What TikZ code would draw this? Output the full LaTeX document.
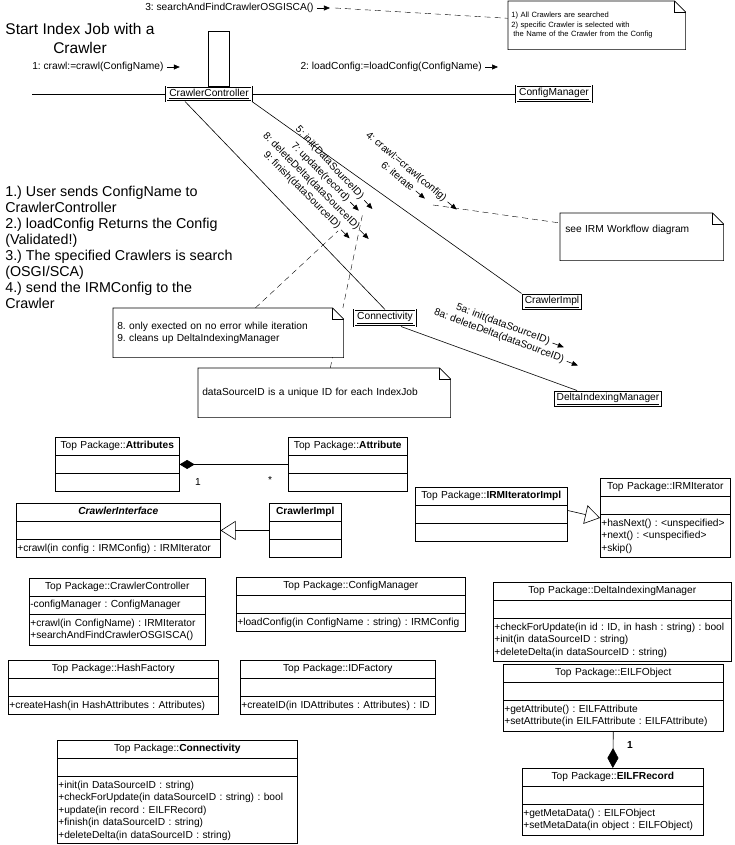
\documentclass[tikz,border=0pt]{standalone}
\usepackage{fontspec}
\setmainfont{Liberation Sans}
\usetikzlibrary{arrows.meta,shapes.multipart,positioning,backgrounds}
\frenchspacing
\newcommand{\clsfont}{\fontsize{10.2}{12.5}\selectfont}
\newcommand{\notefont}{\fontsize{7.6}{9.5}\selectfont}
\newcommand{\stepfont}{\fontsize{14.3}{16}\selectfont}
\newcommand{\hdr}[1]{\makebox[\hsize]{\strut#1}}
\newcommand{\ops}[1]{\strut#1\strut}

\begin{document}
\begin{tikzpicture}[x=1pt,y=-1pt,line width=0.6pt,
    cls/.style={draw,fill=white,rectangle split,rectangle split parts=3,anchor=north west,
                inner xsep=1pt,inner ysep=2.5pt,font=\clsfont,align=left,text width=#1},
    obj/.style={draw,double,double distance=1pt,line width=0.5pt,fill=white,
                font=\clsfont,inner xsep=3pt,inner ysep=2.5pt},
    note/.style={fill=white,anchor=north west,align=left,font=\clsfont},
    msgtxt/.style={font=\clsfont,inner sep=0pt},
    msg/.style={-{Triangle[length=6pt,width=5pt]}},
    link/.style={dash pattern=on 6pt off 4pt},
    gen/.style={-{Triangle[open,length=15pt,width=19pt]}},
    comp/.style={{Diamond[length=15pt,width=9pt]}-},
  ]
  \useasboundingbox (0,0) rectangle (734,845);

  % collaboration part
  \node[align=center,font=\fontsize{15.5}{19}\selectfont] (title) at (80,38) {Start Index Job with a\\Crawler};
  \node[anchor=north west,align=left,inner sep=0pt,font=\stepfont] (steps) at (5,186)
    {1.) User sends ConfigName to\\CrawlerController\\2.) loadConfig Returns the Config\\(Validated!)\\
     3.) The specified Crawlers is search\\(OSGI/SCA)\\4.) send the IRMConfig to the\\Crawler};

  \node[obj] (ccObj)  at (209,94)  {\underline{CrawlerController}};
  \node[obj] (cmObj)  at (554,94)  {\underline{ConfigManager}};
  \node[obj] (ciObj)  at (552,302) {\underline{CrawlerImpl}};
  \node[obj] (conObj) at (385,318) {\underline{Connectivity}};
  \node[obj] (dimObj) at (608,399) {\underline{DeltaIndexingManager}};
  \node[draw,fill=white,minimum width=21pt,minimum height=55pt,anchor=south] (act) at ([xshift=9.5pt]ccObj.north) {};

  \coordinate (lifeL) at (32,94);
  \draw (lifeL) -- (ccObj.west);
  \draw (ccObj.east) -- (cmObj.west);
  \draw ([xshift=-24pt]ccObj.south) -- (conObj.north);
  \draw (ccObj.south east) -- (ciObj.north west);
  \draw ([xshift=16pt]conObj.south) -- ([xshift=-31pt]dimObj.north);

  % messages
  \node[msgtxt,anchor=west] (m1) at (32,67)  {1: crawl:=crawl(ConfigName)};
  \node[msgtxt,anchor=east] (m2) at (482,67) {2: loadConfig:=loadConfig(ConfigName)};
  \node[msgtxt,anchor=west] (m3) at (145,8)  {3: searchAndFindCrawlerOSGISCA()};
  \foreach \m in {m1,m2,m3} \draw[msg] ([xshift=3pt]\m.east) -- ++(13pt,0);
  \node[msgtxt,rotate=-40] (m4) at (406,167) {4: crawl:=crawl(config)};
  \node[msgtxt,rotate=-40] (m6) at (398,176) {6: iterate};
  \node[msgtxt,rotate=-47] (m5) at (329.5,163) {5: init(DataSourceID)};
  \node[msgtxt,rotate=-45] (m7) at (320.3,172.2) {7: update(record)};
  \node[msgtxt,rotate=-45] (m8) at (311.1,181.4) {8: deleteDelta(dataSourceID)};
  \node[msgtxt,rotate=-45] (m9) at (301.9,190.6) {9: finish(dataSourceID)};
  \node[msgtxt,rotate=-20.5] (m5a) at (503,324.5) {5a: init(dataSourceID)};
  \node[msgtxt,rotate=-20.5] (m8a) at (499,336) {8a: deleteDelta(dataSourceID)};
  \foreach \m/\a in {m4/-40,m6/-40,m5/-47,m7/-45,m8/-45,m9/-45,m5a/-20.5,m8a/-20.5}
    \draw[msg] ([shift={(\a:3pt)}]\m.east) -- ++(\a:12pt);

  % notes
  \node[note,font=\notefont,text width=171pt,inner xsep=3pt,minimum height=48pt] (noteCrawl) at (508,1)
    {1) All Crawlers are searched\\2) specific Crawler is selected with\\\hspace{2pt}the Name of the Crawler from the Config};
  \node[note,text width=153pt,inner xsep=5pt,inner ysep=11pt,text height=8pt,text depth=17pt] (noteIRM) at (560,213)
    {see IRM Workflow diagram};
  \node[note,text width=222pt,inner xsep=4pt,minimum height=49pt] (noteErr) at (113,308)
    {8. only exected on no error while iteration\\9. cleans up DeltaIndexingManager};
  \node[note,text width=244pt,inner xsep=4pt,minimum height=49pt] (noteID) at (198,368)
    {dataSourceID is a unique ID for each IndexJob};
  \foreach \n in {noteCrawl,noteIRM,noteErr,noteID}{
    \draw (\n.north west) -- ([xshift=-11pt]\n.north east) -- ([yshift=-11pt]\n.north east)
          -- (\n.south east) -- (\n.south west) -- cycle;
    \draw ([xshift=-11pt]\n.north east) |- ([yshift=-11pt]\n.north east);
  }
  \coordinate (irmTail) at (433,205);
  \coordinate (errTail) at (338,231);
  \coordinate (idTail)  at (363,212);
  \begin{scope}[on background layer]
    \draw[link] ([xshift=21pt]m3.east) -- ([yshift=7pt]noteCrawl.west);
    \draw[link] (irmTail) -- ([yshift=-10pt]noteIRM.north west);
    \draw[link] ([xshift=27pt]noteErr.north) -- (errTail);
    \draw[link] ([xshift=6pt]noteID.north) -- (idTail);
  \end{scope}

  % class part
  \node[cls=122pt] (attrsCls) at (55,437) {\hdr{Top Package::\textbf{Attributes}}\nodepart{two}\strut\nodepart{three}\strut};
  \node[cls=117pt] (attrCls) at (288,437) {\hdr{Top Package::\textbf{Attribute}}\nodepart{two}\strut\nodepart{three}\strut};
  \node[cls=202pt] (ifaceCls) at (16,503) {\hdr{\textbf{\textit{CrawlerInterface}}}\nodepart{two}\strut
    \nodepart{three}\ops{+crawl(in config : IRMConfig) : IRMIterator}};
  \node[cls=70pt] (implCls) at (269,503) {\hdr{\textbf{CrawlerImpl}}\nodepart{two}\strut\nodepart{three}\strut};
  \node[cls=150pt] (itImplCls) at (415,487) {\hdr{Top Package::\textbf{IRMIteratorImpl}}\nodepart{two}\strut\nodepart{three}\strut};
  \node[cls=128pt] (iterCls) at (600,478) {\hdr{Top Package::IRMIterator}\nodepart{two}\strut
    \nodepart{three}\ops{+hasNext() : <unspecified>\\+next() : <unspecified>\\+skip()}};
  \node[cls=174pt] (ctrlCls) at (29,578) {\hdr{Top Package::CrawlerController}\nodepart{two}\ops{-configManager : ConfigManager}
    \nodepart{three}\ops{+crawl(in ConfigName) : IRMIterator\\+searchAndFindCrawlerOSGISCA()}};
  \node[cls=227pt] (cfgCls) at (236,577) {\hdr{Top Package::ConfigManager}\nodepart{two}\strut
    \nodepart{three}\ops{+loadConfig(in ConfigName : string) : IRMConfig}};
  \node[cls=208pt] (hashCls) at (8,660) {\hdr{Top Package::HashFactory}\nodepart{two}\strut
    \nodepart{three}\ops{+createHash(in HashAttributes : Attributes)}};
  \node[cls=193pt] (idCls) at (240,660) {\hdr{Top Package::IDFactory}\nodepart{two}\strut
    \nodepart{three}\ops{+createID(in IDAttributes : Attributes) : ID}};
  \node[cls=236pt] (dimCls) at (493,582) {\hdr{Top Package::DeltaIndexingManager}\nodepart{two}\strut
    \nodepart{three}\ops{+checkForUpdate(in id : ID, in hash : string) : bool\\+init(in dataSourceID : string)\\+deleteDelta(in dataSourceID : string)}};
  \node[cls=218pt] (objCls) at (503,664) {\hdr{Top Package::EILFObject}\nodepart{two}\strut
    \nodepart{three}\ops{+getAttribute() : EILFAttribute\\+setAttribute(in EILFAttribute : EILFAttribute)}};
  \node[cls=179pt] (recCls) at (522,768) {\hdr{Top Package::\textbf{EILFRecord}}\nodepart{two}\strut
    \nodepart{three}\ops{+getMetaData() : EILFObject\\+setMetaData(in object : EILFObject)}};
  \node[cls=238pt] (conCls) at (57,740) {\hdr{Top Package::\textbf{Connectivity}}\nodepart{two}\strut
    \nodepart{three}\strut+init(in DataSourceID : string)\\+checkForUpdate(in dataSourceID : string) : bool\\+update(in record : EILFRecord)\\+finish(in dataSourceID : string)\\+deleteDelta(in dataSourceID : string)};

  \draw[comp] (attrsCls.east) -- (attrCls.west);
  \node[font=\clsfont] (mulOne) at (198,482) {1};
  \node[font=\clsfont] (mulMany) at (270,480) {*};
  \draw[gen] (implCls.west) -- (ifaceCls.east);
  \draw[gen] ([yshift=4pt]itImplCls.east) -- (iterCls.west);
  \draw[{Diamond[length=20pt,width=11pt]}-] (recCls.north) -- (objCls.south);
  \node[font=\clsfont\bfseries] (mulRec) at (630,745) {1};
\end{tikzpicture}
\end{document}
